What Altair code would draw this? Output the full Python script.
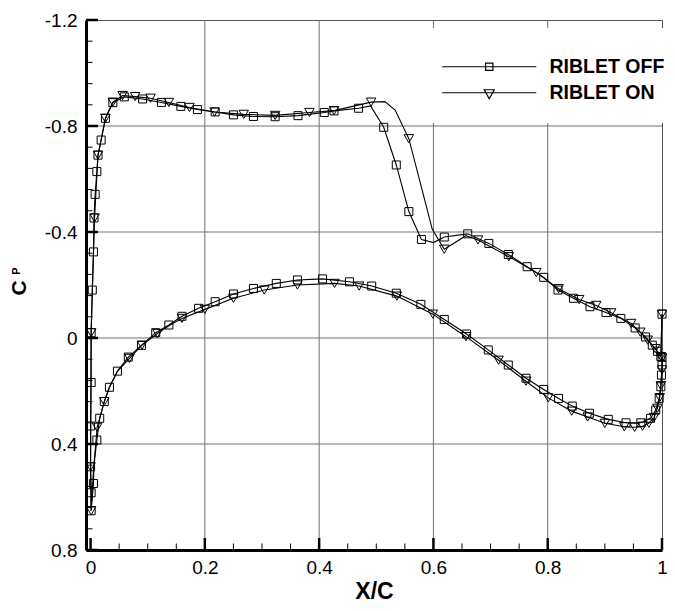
import altair as alt
import pandas as pd

SERIES = ["RIBLET OFF", "RIBLET ON"]

# RIBLET OFF (squares): trailing edge -> upper surface -> leading edge -> lower surface -> trailing edge
off_x = [1.0, 0.998, 0.992, 0.983, 0.971, 0.953, 0.928, 0.902, 0.874, 0.845,
         0.818, 0.793, 0.764, 0.731, 0.697, 0.66, 0.619, 0.6, 0.579, 0.557,
         0.535, 0.513, 0.49, 0.469, 0.426, 0.409, 0.363, 0.323, 0.285, 0.25,
         0.218, 0.187, 0.158, 0.124, 0.091, 0.059, 0.039, 0.026, 0.0185, 0.013,
         0.011, 0.008, 0.006, 0.005, 0.003, 0.001, 0.001, 0.0, 0.0, 0.001,
         0.001, 0.005, 0.006, 0.011, 0.016, 0.024, 0.033, 0.047, 0.066, 0.089,
         0.114, 0.137, 0.16, 0.189, 0.218, 0.25, 0.285, 0.325, 0.362, 0.406,
         0.453, 0.492, 0.535, 0.578, 0.619, 0.658, 0.696, 0.731, 0.762, 0.793,
         0.819, 0.843, 0.873, 0.906, 0.937, 0.963, 0.98, 0.989, 0.995, 0.998,
         0.999, 1.0, 1.0]
off_cp = [-0.09, 0.07, 0.05, 0.027, -0.004, -0.038, -0.074, -0.096, -0.118, -0.15,
          -0.181, -0.229, -0.269, -0.315, -0.357, -0.393, -0.381, -0.36, -0.372, -0.477,
          -0.653, -0.795, -0.876, -0.867, -0.857, -0.851, -0.839, -0.835, -0.836, -0.842,
          -0.853, -0.862, -0.874, -0.889, -0.902, -0.91, -0.888, -0.829, -0.747, -0.69,
          -0.628, -0.542, -0.453, -0.325, -0.181, -0.02, 0.168, 0.332, 0.486, 0.584,
          0.652, 0.549, 0.48, 0.385, 0.303, 0.24, 0.186, 0.125, 0.072, 0.028,
          -0.02, -0.049, -0.082, -0.112, -0.137, -0.166, -0.187, -0.206, -0.219, -0.223,
          -0.212, -0.196, -0.169, -0.127, -0.07, -0.015, 0.045, 0.102, 0.152, 0.194,
          0.228, 0.257, 0.284, 0.307, 0.32, 0.32, 0.303, 0.272, 0.228, 0.184,
          0.14, 0.102, 0.072]
off_mark = [1, 1, 1, 1, 1, 1, 1, 1, 1, 1,
            1, 1, 1, 1, 1, 1, 1, 0, 1, 1,
            1, 1, 0, 1, 1, 1, 1, 1, 1, 1,
            1, 1, 1, 1, 1, 1, 1, 1, 1, 1,
            1, 1, 1, 1, 1, 1, 1, 1, 1, 1,
            1, 1, 0, 1, 1, 1, 1, 1, 1, 1,
            1, 1, 1, 1, 1, 1, 1, 1, 1, 1,
            1, 1, 1, 1, 1, 1, 1, 1, 1, 1,
            1, 1, 1, 1, 1, 1, 1, 1, 1, 1,
            1, 1, 1]

# RIBLET ON (down triangles)
on_x = [1.0, 0.998, 0.988, 0.975, 0.962, 0.946, 0.911, 0.885, 0.855, 0.819,
        0.78, 0.732, 0.678, 0.657, 0.619, 0.598, 0.557, 0.533, 0.515, 0.491,
        0.426, 0.383, 0.323, 0.268, 0.217, 0.173, 0.137, 0.105, 0.078, 0.056,
        0.039, 0.026, 0.013, 0.007, 0.001, 0.0, 0.001, 0.005, 0.0115, 0.024,
        0.033, 0.047, 0.068, 0.09, 0.117, 0.137, 0.16, 0.2, 0.25, 0.304,
        0.362, 0.427, 0.47, 0.536, 0.599, 0.657, 0.714, 0.762, 0.801, 0.842,
        0.87, 0.9, 0.934, 0.952, 0.966, 0.977, 0.986, 0.992, 0.996, 0.998,
        1.0, 1.0]
on_cp = [-0.09, 0.07, 0.04, 0.008, -0.022, -0.055, -0.095, -0.123, -0.145, -0.186,
         -0.247, -0.307, -0.37, -0.386, -0.335, -0.41, -0.752, -0.86, -0.892, -0.89,
         -0.858, -0.851, -0.84, -0.844, -0.853, -0.87, -0.889, -0.905, -0.911, -0.915,
         -0.89, -0.829, -0.69, -0.453, -0.02, 0.486, 0.652, 0.5, 0.337, 0.24,
         0.186, 0.126, 0.077, 0.027, -0.017, -0.046, -0.074, -0.108, -0.15, -0.181,
         -0.2, -0.206, -0.196, -0.158, -0.09, -0.005, 0.084, 0.163, 0.226, 0.276,
         0.298, 0.322, 0.335, 0.337, 0.333, 0.322, 0.3, 0.265, 0.225, 0.18,
         0.12, 0.075]
on_mark = [1, 1, 1, 1, 1, 1, 1, 1, 1, 1,
           1, 1, 1, 0, 1, 0, 1, 0, 0, 1,
           1, 1, 1, 1, 1, 1, 1, 1, 1, 1,
           1, 1, 1, 1, 1, 1, 1, 0, 1, 1,
           0, 0, 1, 1, 1, 0, 1, 1, 1, 1,
           1, 1, 1, 1, 1, 1, 1, 1, 1, 1,
           1, 1, 1, 1, 1, 1, 1, 1, 1, 1,
           1, 1]

x_labels = [0, 0.2, 0.4, 0.6, 0.8, 1.0]
y_labels = [-1.2, -0.8, -0.4, 0, 0.4, 0.8]
x_ticks_major = [0, 0.2, 0.4, 0.6, 0.8, 1.0]
x_ticks_minor = [0.05, 0.1, 0.15, 0.25, 0.3, 0.35, 0.45, 0.5, 0.55, 0.65, 0.7, 0.75, 0.85, 0.9, 0.95]
y_ticks_major = [-1.2, -0.8, -0.4, 0, 0.4, 0.8]
y_ticks_minor = [-1.12, -1.04, -0.96, -0.88, -0.72, -0.64, -0.56, -0.48, -0.32, -0.24,
                 -0.16, -0.08, 0.08, 0.16, 0.24, 0.32, 0.48, 0.56, 0.64, 0.72]
x_grid = [0.2, 0.4, 0.6, 0.8]
y_grid = [-0.8, -0.4, 0, 0.4]

rows = []
for name, xs, cps, ms in [(SERIES[0], off_x, off_cp, off_mark), (SERIES[1], on_x, on_cp, on_mark)]:
    for i, (xv, cv, mv) in enumerate(zip(xs, cps, ms)):
        rows.append({"series": name, "i": i, "x": xv, "cp": cv, "m": mv})
df = pd.DataFrame(rows)

W, H = 576, 530
FONT = "Liberation Sans"
xscale = alt.Scale(domain=[-0.008, 1.0], nice=False, zero=False)
yscale = alt.Scale(domain=[-1.2, 0.8], nice=False, zero=False, reverse=True)

xaxis = alt.Axis(values=x_labels, labelExpr="'' + datum.value", ticks=False, tickSize=0, grid=False,
                 domain=True, domainColor="black", domainWidth=3, labelFlush=False, labelOverlap=False,
                 labelFont=FONT, labelFontSize=19, labelColor="black", labelPadding=8,
                 title="X/C", titleFont=FONT, titleFontSize=23, titleFontWeight="bold", titleColor="black",
                 titleY=41, titleBaseline="middle")
yaxis = alt.Axis(values=y_labels, labelExpr="'' + datum.value", ticks=False, tickSize=0, grid=False,
                 domain=True, domainColor="black", domainWidth=3, labelFlush=False, labelOverlap=False,
                 labelFont=FONT, labelFontSize=19, labelColor="black", labelPadding=9,
                 title="C", titleFont=FONT, titleFontSize=21, titleFontWeight="bold", titleColor="black",
                 titleAngle=270, titleAlign="center", titleBaseline="middle", titleX=-66.5, titleY=267.5)


def X(field):
    return alt.X(field, scale=xscale, axis=xaxis)


def Y(field):
    return alt.Y(field, scale=yscale, axis=yaxis)


GRID = "#707070"
ygrid = alt.Chart(pd.DataFrame({"v": y_grid})).mark_rule(color=GRID, strokeWidth=1).encode(y=Y("v:Q"))
xgrid = alt.Chart(pd.DataFrame({"v": x_grid})).mark_rule(color=GRID, strokeWidth=1).encode(x=X("v:Q"))

xmaj = alt.Chart(pd.DataFrame({"v": x_ticks_major})).mark_rule(color="black", strokeWidth=2.5).encode(
    x=X("v:Q"), y=alt.value(H), y2=alt.value(H - 12))
xmin = alt.Chart(pd.DataFrame({"v": x_ticks_minor})).mark_rule(color="black", strokeWidth=1).encode(
    x=X("v:Q"), y=alt.value(H), y2=alt.value(H - 6.5))
ymaj = alt.Chart(pd.DataFrame({"v": y_ticks_major})).mark_rule(color="black", strokeWidth=2.5).encode(
    y=Y("v:Q"), x=alt.value(0), x2=alt.value(12))
ymin = alt.Chart(pd.DataFrame({"v": y_ticks_minor})).mark_rule(color="black", strokeWidth=1).encode(
    y=Y("v:Q"), x=alt.value(0), x2=alt.value(6.5))

lines = alt.Chart(df).mark_line(color="black", strokeWidth=1.1).encode(
    x=X("x:Q"), y=Y("cp:Q"), detail="series:N", order="i:Q")

pts_off = alt.Chart(df).transform_filter("datum.m == 1 && datum.series == 'RIBLET OFF'").mark_point(
    shape="square", size=64, filled=False, color="black", strokeWidth=1, opacity=1).encode(
    x=X("x:Q"), y=Y("cp:Q"))
pts_on = alt.Chart(df).transform_filter("datum.m == 1 && datum.series == 'RIBLET ON'").mark_point(
    shape="triangle-down", size=90, filled=False, color="black", strokeWidth=1, opacity=1).encode(
    x=X("x:Q"), y=Y("cp:Q"))

# legend symbols: a line with the marker in the middle
SYM_OFF = "M-11.75,0H11.75M-0.92,-0.92H0.92V0.92H-0.92Z"
SYM_ON = "M-11.75,0H11.75M-1.25,-0.75H1.25L0,1.5Z"

legend = alt.Legend(
    orient="none", legendX=328.5, legendY=8,
    title=" ", titleFontSize=9, titlePadding=0,
    fillColor="white", padding=20,
    labelFont=FONT, labelFontSize=19.5, labelFontWeight="bold", labelColor="black",
    symbolSize=64, symbolStrokeWidth=1.2, symbolStrokeColor="black", symbolFillColor="transparent",
    symbolOpacity=1, symbolOffset=45, labelOffset=50.5, rowPadding=5,
)

leg_layer = alt.Chart(df).transform_filter("false").mark_point(
    filled=False, color="black", strokeWidth=1.2, opacity=1).encode(
    x=X("x:Q"), y=Y("cp:Q"),
    shape=alt.Shape("series:N", scale=alt.Scale(domain=SERIES, range=[SYM_OFF, SYM_ON]), legend=legend),
)

sub_p = alt.Chart(pd.DataFrame({"t": ["P"]})).mark_text(
    font=FONT, fontSize=11, fontWeight="bold", angle=270, align="center", baseline="middle", color="black"
).encode(text="t:N", x=alt.value(-69), y=alt.value(251))

chart = alt.layer(ygrid, xgrid, xmaj, xmin, ymaj, ymin, lines, pts_off, pts_on, leg_layer, sub_p).properties(
    width=W, height=H,
    padding={"left": 78, "top": 12, "right": 5, "bottom": 53},
    autosize=alt.AutoSizeParams(type="none"),
).configure_view(stroke="#555555", strokeWidth=1)

chart.save("out.html", embed_options={"renderer": "svg", "actions": False})
